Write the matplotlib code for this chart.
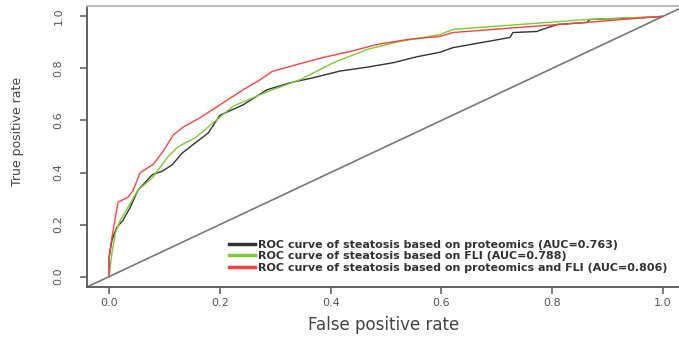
import matplotlib
matplotlib.use('Agg')
import matplotlib.pyplot as plt

# ROC curves (false positive rate, true positive rate)
fpr_prot = [0, 0, 0.005, 0.014, 0.025, 0.038, 0.052, 0.078, 0.096, 0.114, 0.132, 0.155,
            0.179, 0.20, 0.242, 0.285, 0.327, 0.368, 0.417, 0.466, 0.513, 0.556, 0.597,
            0.621, 0.682, 0.724, 0.729, 0.772, 0.809, 0.863, 0.868, 0.971, 1.0]
tpr_prot = [0, 0.073, 0.14, 0.19, 0.216, 0.266, 0.332, 0.392, 0.405, 0.43, 0.475, 0.513,
            0.552, 0.62, 0.66, 0.718, 0.745, 0.764, 0.79, 0.805, 0.822, 0.845, 0.862,
            0.88, 0.903, 0.919, 0.938, 0.942, 0.969, 0.977, 0.988, 0.996, 1.0]

fpr_fli = [0, 0.005, 0.011, 0.02, 0.034, 0.052, 0.078, 0.106, 0.125, 0.155, 0.173, 0.19,
           0.224, 0.285, 0.345, 0.405, 0.466, 0.525, 0.597, 0.621, 0.742, 0.863, 1.0]
tpr_fli = [0, 0.09, 0.166, 0.216, 0.266, 0.332, 0.38, 0.46, 0.50, 0.533, 0.564, 0.595,
           0.655, 0.71, 0.757, 0.822, 0.873, 0.904, 0.93, 0.95, 0.969, 0.988, 1.0]

fpr_comb = [0, 0, 0.005, 0.016, 0.034, 0.043, 0.056, 0.079, 0.097, 0.116, 0.134, 0.155,
            0.164, 0.20, 0.242, 0.273, 0.294, 0.339, 0.386, 0.435, 0.484, 0.538, 0.597,
            0.621, 0.742, 0.863, 0.971, 1.0]
tpr_comb = [0, 0.08, 0.15, 0.286, 0.305, 0.33, 0.40, 0.43, 0.48, 0.545, 0.575, 0.60,
            0.61, 0.66, 0.718, 0.757, 0.788, 0.815, 0.842, 0.865, 0.892, 0.911, 0.923,
            0.938, 0.958, 0.977, 0.996, 1.0]

labels = ['ROC curve of steatosis based on proteomics (AUC=0.763)',
          'ROC curve of steatosis based on FLI (AUC=0.788)',
          'ROC curve of steatosis based on proteomics and FLI (AUC=0.806)']
colors = ['#333333', '#77cc33', '#ff4040']
ticks = [0.0, 0.2, 0.4, 0.6, 0.8, 1.0]

W, H = 679, 347
fig = plt.figure(figsize=(W / 100, H / 100), dpi=100)
ax = fig.add_axes([87 / W, 1 - 287 / H, 598 / W, 281 / H])

ax.plot(fpr_prot, tpr_prot, color=colors[0], lw=1.0, label=labels[0])
ax.plot(fpr_fli, tpr_fli, color=colors[1], lw=1.0, label=labels[1])
ax.plot(fpr_comb, tpr_comb, color=colors[2], lw=1.0, label=labels[2])
ax.axline((0, 0), (1, 1), color='#777777', lw=1.2)

ax.set_xlim(-0.04, 1.04)
ax.set_ylim(-0.04, 1.04)

for s in ['left', 'bottom']:
    ax.spines[s].set_color('#555555')
    ax.spines[s].set_linewidth(1.3)
ax.spines['top'].set_color('#bbbbbb')
ax.spines['top'].set_linewidth(1.5)
ax.spines['right'].set_visible(False)

ax.set_xticks(ticks)
ax.set_yticks(ticks)
ax.set_xticklabels(['%.1f' % t for t in ticks])
ax.set_yticklabels(['%.1f' % t for t in ticks], rotation=90, va='center')
ax.tick_params(axis='both', length=5, width=1.2, color='#666666',
               labelsize=8, labelcolor='#555555')
ax.tick_params(axis='x', pad=3)
ax.tick_params(axis='y', pad=12)

fig.text(384 / W, 1 - 325 / H, 'False positive rate', fontsize=12,
         ha='center', va='center', color='#444444')
fig.text(18 / W, 1 - 131 / H, 'True positive rate', fontsize=9, rotation=90,
         ha='center', va='center', color='#444444')

leg = ax.legend(loc='upper left', bbox_to_anchor=(229 / W, 1 - 240 / H),
                bbox_transform=fig.transFigure, frameon=False, borderpad=0,
                borderaxespad=0, handlelength=2.3, handletextpad=0.35,
                labelspacing=0.12, prop={'size': 8, 'weight': 'bold'})
for h in leg.get_lines():
    h.set_linewidth(2.5)
for t in leg.get_texts():
    t.set_color('#333333')

fig.savefig('out.png', dpi=100, facecolor='white')
plt.close()
